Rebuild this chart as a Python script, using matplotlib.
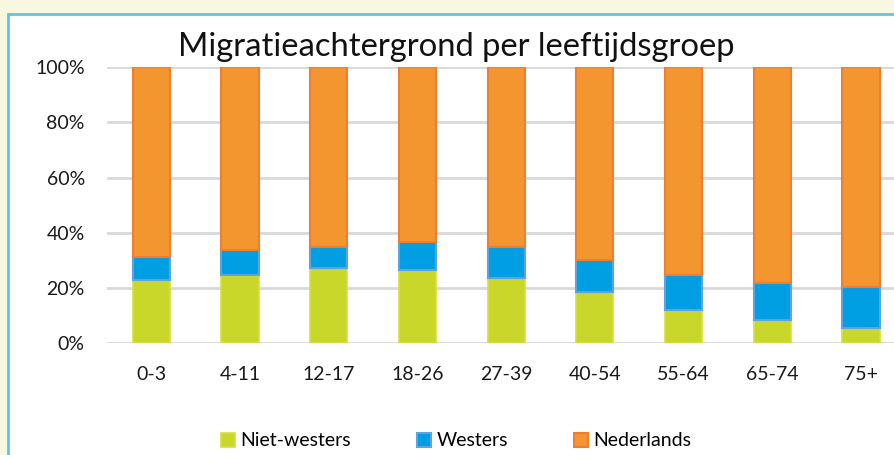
import matplotlib
matplotlib.use('Agg')
import matplotlib.pyplot as plt
from matplotlib.patches import Rectangle
from matplotlib.ticker import FuncFormatter

# Gegevens (geschat uit de afbeelding), aandeel in procenten
leeftijdsgroepen = ['0-3', '4-11', '12-17', '18-26', '27-39', '40-54', '55-64', '65-74', '75+']
niet_westers = [23.0, 24.7, 27.4, 26.5, 23.8, 18.4, 12.1, 8.6, 5.7]
westers = [8.3, 9.2, 7.5, 10.1, 11.1, 11.7, 12.6, 13.4, 14.5]
nederlands = [100 - a - b for a, b in zip(niet_westers, westers)]

plt.rcParams['font.family'] = ['Lato', 'DejaVu Sans']

fig = plt.figure(figsize=(8.95, 4.55), dpi=100)
fig.patch.set_facecolor('#F8F8E1')

# witte kader met lichtblauwe rand
kader = Rectangle((8 / 895, -0.2), 1.2, 0.2 + (455 - 14) / 455, transform=fig.transFigure,
                  facecolor='white', edgecolor='#5BC4EE', linewidth=2, zorder=-10)
fig.patches.append(kader)

ax = fig.add_axes([107 / 895, (455 - 343.3) / 455, 798.3 / 895, 276.3 / 455])
ax.set_facecolor('none')

x = range(len(leeftijdsgroepen))
breedte = 0.42
ax.bar(x, niet_westers, breedte, color='#C9D72A', edgecolor='#D4E13A', linewidth=1.2,
       label='Niet-westers', zorder=3)
ax.bar(x, westers, breedte, bottom=niet_westers, color='#009FE3', edgecolor='#5FA3DA',
       linewidth=1.5, label='Westers', zorder=3)
onder = [a + b for a, b in zip(niet_westers, westers)]
ax.bar(x, nederlands, breedte, bottom=onder, color='#F39630', edgecolor='#EE7E32',
       linewidth=1.5, label='Nederlands', zorder=3)

ax.set_xlim(-0.5, 8.5)
ax.set_ylim(0, 100)
ax.set_yticks([0, 20, 40, 60, 80, 100])
ax.yaxis.set_major_formatter(FuncFormatter(lambda v, p: f'{v:.0f}%'))
ax.set_xticks(list(x))
ax.set_xticklabels(leeftijdsgroepen)
ax.grid(axis='y', color='#D9D9D9', linewidth=2, zorder=0)
for s in ax.spines.values():
    s.set_visible(False)
ax.tick_params(length=0, labelsize=14, colors='#1A1A1A')
ax.tick_params(axis='y', pad=16)
ax.tick_params(axis='x', pad=16)

fig.text(456 / 895, 1 - 47 / 455, 'Migratieachtergrond per leeftijdsgroep', fontsize=23.6,
         ha='center', va='center', color='#111111')

fig.legend(loc='center', bbox_to_anchor=(456 / 895, 1 - 441 / 455), ncol=3, frameon=False,
           fontsize=14, handlelength=0.75, handleheight=0.75, handletextpad=0.25,
           columnspacing=3.4)

fig.savefig('out.png', dpi=100, facecolor=fig.get_facecolor())
